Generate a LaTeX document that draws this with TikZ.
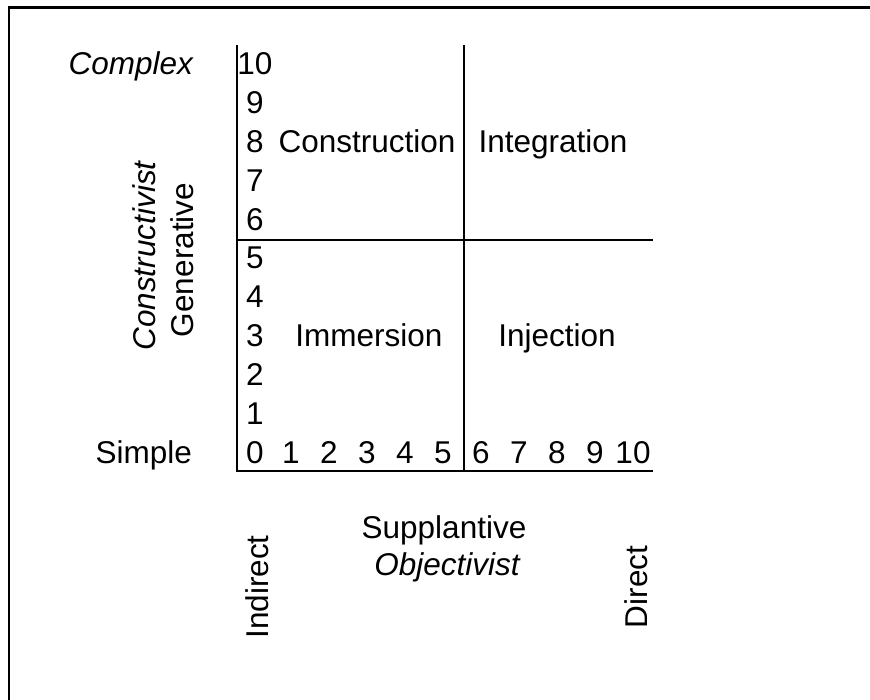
\documentclass[tikz,border=0pt]{standalone}
\usepackage{fontspec}
\setmainfont{Liberation Sans}
\usepackage{xcolor}
\usepackage{tikz}
\definecolor{ink}{HTML}{000000}
\definecolor{paper}{HTML}{FFFFFF}
\tikzset{
  frame/.style={draw=ink, line width=2.6pt},
  axis/.style={draw=ink, line width=2pt, line cap=rect, line join=miter},
  lab/.style={text=ink, font=\fontsize{31.5}{38}\selectfont, inner sep=0pt, anchor=base},
  labi/.style={lab, font=\fontsize{31.5}{38}\selectfont\itshape},
}

\begin{document}
\begin{tikzpicture}[x=1pt, y=-1pt]
  \def\W{870}\def\H{700}
  \def\xl{237}\def\xm{464}\def\xr{652}
  \def\yt{46}\def\ym{240}\def\yb{471}
  \def\rowh{38.9}\def\colw{38}

  \useasboundingbox (0,0) rectangle (\W,\H);
  \fill[paper] (0,0) rectangle (\W,\H);

  % outer frame (runs off the right and bottom edge)
  \draw[frame] (9,7.3) rectangle (\W+12,\H+12);

  % grid corners
  \coordinate (tl) at (\xl,\yt);
  \coordinate (bl) at (\xl,\yb);
  \coordinate (br) at (\xr,\yb);
  \coordinate (tm) at (\xm,\yt);
  \coordinate (bm) at (\xm,\yb);
  \coordinate (ml) at (\xl,\ym);
  \coordinate (mr) at (\xr,\ym);

  \draw[axis] (tl) -- (bl) -- (br);
  \draw[axis] (tm) -- (bm);
  \draw[axis] (ml) -- (mr);

  % vertical scale
  \foreach \k in {0,...,10}{
    \pgfmathsetmacro{\y}{74.5+(10-\k)*\rowh}
    \node[lab] (r\k) at (255,\y) {\k};
  }
  % horizontal scale
  \foreach \k in {1,...,10}{
    \pgfmathsetmacro{\x}{253+\k*\colw}
    \node[lab] (c\k) at (\x,463.4) {\k};
  }

  % quadrants
  \node[lab] (constr) at (367,152.3) {Construction};
  \node[lab] (integ) at (553,152.3) {Integration};
  \node[lab] (immer) at (369,346.8) {Immersion};
  \node[lab] (injec) at (557,346.8) {Injection};

  % left axis labels
  \node[labi, anchor=base east] (complex) at (193,74.5) {Complex};
  \node[lab, anchor=base east] (simple) at (192,463.4) {Simple};
  \node[labi, rotate=90] (constv) at (155,256) {Constructivist};
  \node[lab, rotate=90] (gener) at (193,260) {Generative};

  % bottom axis labels
  \node[lab, rotate=90] (indirect) at (268,587) {Indirect};
  \node[lab, rotate=90] (direct) at (647,587) {Direct};
  \node[lab] (suppl) at (444,538) {Supplantive};
  \node[labi] (objv) at (447,575) {Objectivist};
\end{tikzpicture}
\end{document}
